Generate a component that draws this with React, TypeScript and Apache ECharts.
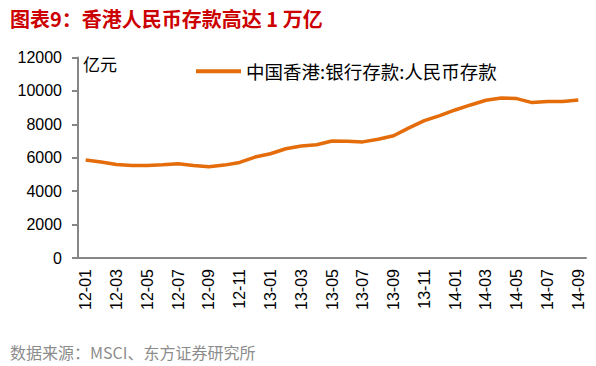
import React, { useEffect, useRef } from "react";
import * as echarts from "echarts";

const categories = [
  "12-01", "12-02", "12-03", "12-04", "12-05", "12-06", "12-07", "12-08", "12-09", "12-10", "12-11", "12-12",
  "13-01", "13-02", "13-03", "13-04", "13-05", "13-06", "13-07", "13-08", "13-09", "13-10", "13-11", "13-12",
  "14-01", "14-02", "14-03", "14-04", "14-05", "14-06", "14-07", "14-08", "14-09",
];

const rmbDeposits = [
  5860, 5740, 5600, 5540, 5540, 5580, 5640, 5540, 5460, 5560, 5720, 6040,
  6240, 6540, 6700, 6780, 7000, 6990, 6950, 7110, 7320, 7790, 8220, 8520,
  8860, 9160, 9440, 9580, 9540, 9300, 9360, 9360, 9460,
];

const seriesName = "中国香港:银行存款:人民币存款";
const titleText = "图表9：香港人民币存款高达 1 万亿";
const unitText = "亿元";
const sourceText = "数据来源：MSCI、东方证券研究所";

const FONT = "'Liberation Sans', 'Noto Sans CJK SC', sans-serif";
const CJK = "'Noto Sans CJK SC', 'Liberation Sans', sans-serif";

export default function App() {
  const ref = useRef<HTMLDivElement>(null);

  useEffect(() => {
    if (!ref.current) return;
    const chart = echarts.init(ref.current, undefined, { renderer: "svg" });
    chart.setOption({
      animation: false,
      backgroundColor: "#ffffff",
      grid: { left: 78, right: 10, top: 57.5, bottom: 108 },
      legend: {
        data: [seriesName],
        left: 196,
        top: 62,
        padding: 0,
        icon: "rect",
        itemWidth: 45,
        itemHeight: 4,
        textStyle: { fontSize: 18.5, color: "#000", fontFamily: CJK },
      },
      xAxis: {
        type: "category",
        data: categories,
        boundaryGap: true,
        axisLine: { lineStyle: { color: "#868686", width: 2 } },
        axisTick: { interval: 1, length: 5, lineStyle: { color: "#868686", width: 2 } },
        axisLabel: {
          interval: 1,
          rotate: 90,
          margin: 11,
          fontSize: 16,
          color: "#000",
          fontFamily: FONT,
        },
        splitLine: { show: false },
      },
      yAxis: {
        type: "value",
        min: 0,
        max: 12000,
        interval: 2000,
        axisLine: { show: true, lineStyle: { color: "#868686", width: 2 } },
        axisTick: { show: true, length: 6, lineStyle: { color: "#868686", width: 2 } },
        axisLabel: {
          margin: 16,
          fontSize: 16,
          color: "#000",
          fontFamily: FONT,
          formatter: (v: number) => String(v),
        },
        splitLine: { show: false },
      },
      series: [
        {
          name: seriesName,
          type: "line",
          data: rmbDeposits,
          symbol: "none",
          lineStyle: { color: "#E46C0A", width: 3.5 },
          itemStyle: { color: "#E46C0A" },
        },
      ],
      graphic: [
        {
          type: "text",
          left: 10,
          top: 8,
          style: {
            text: titleText,
            fontSize: 20,
            fontWeight: "bold",
            fill: "#cc0000",
            fontFamily: CJK,
          },
        },
        {
          type: "text",
          left: 83,
          top: 55,
          style: { text: unitText, fontSize: 17, fill: "#000", fontFamily: CJK },
        },
        {
          type: "text",
          left: 10,
          top: 344,
          style: { text: sourceText, fontSize: 16, fill: "#8c8c8c", fontFamily: CJK },
        },
      ],
    });
    return () => chart.dispose();
  }, []);

  return (
    <div
      ref={ref}
      style={{ position: "absolute", left: 0, top: 0, width: 596, height: 366 }}
    />
  );
}
